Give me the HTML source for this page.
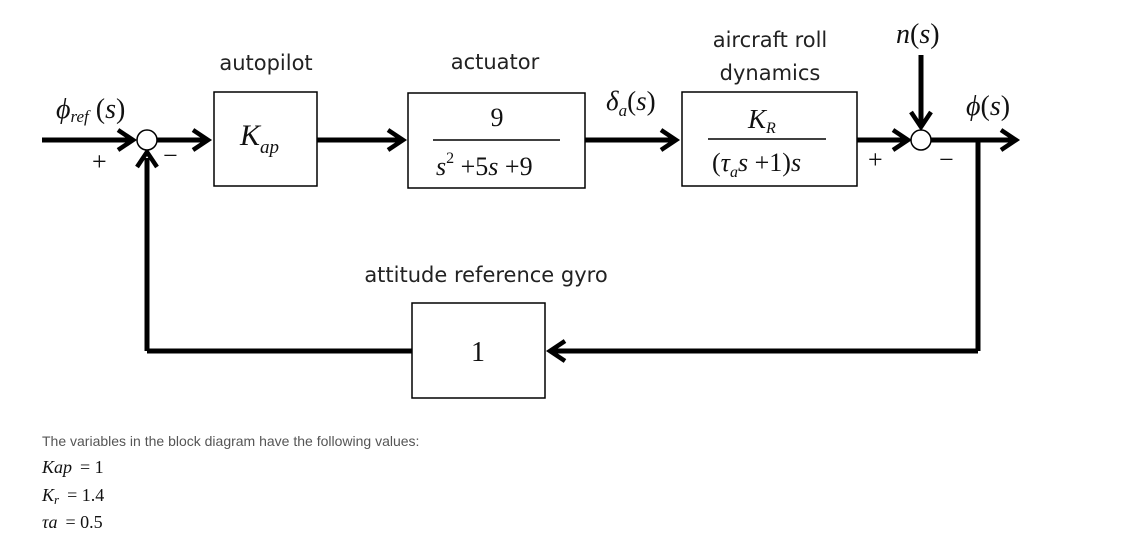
<!DOCTYPE html>
<html><head><meta charset="utf-8"><style>
body{margin:0;background:#fff;width:1126px;height:541px;overflow:hidden}
svg{position:absolute;left:0;top:0}
.l{font-family:"DejaVu Sans","Liberation Sans",sans-serif;font-size:21px;fill:#222}
.m{font-family:"Liberation Serif",serif;font-style:italic;fill:#111}
.r{font-family:"Liberation Serif",serif;fill:#111}
.t{font-family:"Liberation Sans",sans-serif;font-size:14px;fill:#555}
</style></head><body>
<svg width="1126" height="541" viewBox="0 0 1126 541">
<g stroke="#000" stroke-width="5" fill="none">
<line x1="42" y1="140" x2="132" y2="140"/>
<line x1="157" y1="140" x2="208" y2="140"/>
<line x1="317" y1="140" x2="402" y2="140"/>
<line x1="585" y1="140" x2="676" y2="140"/>
<line x1="857" y1="140" x2="906" y2="140"/>
<line x1="931" y1="140" x2="1012" y2="140"/>
<line x1="978" y1="140" x2="978" y2="351"/>
<line x1="978" y1="351" x2="551" y2="351"/>
<line x1="412" y1="351" x2="147" y2="351"/>
<line x1="147" y1="351" x2="147" y2="158"/>
<line x1="921" y1="55" x2="921" y2="124"/>
</g>
<g stroke="#000" stroke-width="4.5" fill="none" stroke-linejoin="miter">
<polyline points="118,130 133,140 118,150"/>
<polyline points="193,130 208,140 193,150"/>
<polyline points="388,130 403,140 388,150"/>
<polyline points="661,130 676,140 661,150"/>
<polyline points="893,130 908,140 893,150"/>
<polyline points="1001,130 1016,140 1001,150"/>
<polyline points="565,341 550,351 565,361"/>
<polyline points="137,167 147,152 157,167"/>
<polyline points="911,112 921,127 931,112"/>
</g>
<g stroke="#000" stroke-width="1.5" fill="#fff">
<circle cx="147" cy="140" r="10"/>
<circle cx="921" cy="140" r="10"/>
<rect x="214" y="92" width="103" height="94"/>
<rect x="408" y="93" width="177" height="95"/>
<rect x="682" y="92" width="175" height="94"/>
<rect x="412" y="303" width="133" height="95"/>
<line x1="433" y1="140" x2="560" y2="140"/>
<line x1="708" y1="139" x2="826" y2="139"/>
</g>
<text class="l" x="266" y="70" text-anchor="middle">autopilot</text>
<text class="l" x="495" y="69" text-anchor="middle">actuator</text>
<text class="l" x="770" y="47" text-anchor="middle">aircraft roll</text>
<text class="l" x="770" y="80" text-anchor="middle">dynamics</text>
<text class="l" x="486" y="282" text-anchor="middle">attitude reference gyro</text>
<text class="m" x="56" y="118" font-size="28">ϕ<tspan font-size="17" dy="4">ref</tspan><tspan class="r" font-style="normal" dy="-4"> (</tspan>s<tspan font-style="normal">)</tspan></text>
<text class="r" x="92" y="170" font-size="26">+</text>
<text class="r" x="163" y="164" font-size="26">−</text>
<text class="r" x="868" y="168" font-size="26">+</text>
<text class="r" x="939" y="168" font-size="26">−</text>
<text class="m" x="240" y="145" font-size="30">K<tspan font-size="19" dy="8">ap</tspan></text>
<text class="r" x="497" y="126" font-size="26" text-anchor="middle">9</text>
<text class="m" x="436" y="175" font-size="26">s<tspan class="r" font-style="normal" font-size="16" dy="-12">2</tspan><tspan class="r" font-style="normal" dy="12"> +5</tspan>s<tspan class="r" font-style="normal"> +9</tspan></text>
<text class="m" x="606" y="110" font-size="27">δ<tspan font-size="17" dy="6">a</tspan><tspan class="r" font-style="normal" dy="-6">(</tspan>s<tspan class="r" font-style="normal">)</tspan></text>
<text class="m" x="748" y="128" font-size="27">K<tspan font-size="16" dy="5">R</tspan></text>
<text class="m" x="712" y="171" font-size="26"><tspan class="r" font-style="normal">(</tspan>τ<tspan font-size="16" dy="6">a</tspan><tspan dy="-6">s</tspan><tspan class="r" font-style="normal"> +1)</tspan>s</text>
<text class="m" x="896" y="43" font-size="28">n<tspan class="r" font-style="normal">(</tspan>s<tspan class="r" font-style="normal">)</tspan></text>
<text class="m" x="966" y="115" font-size="28">ϕ<tspan class="r" font-style="normal">(</tspan>s<tspan class="r" font-style="normal">)</tspan></text>
<text class="r" x="478" y="361" font-size="28" text-anchor="middle">1</text>
<text class="t" x="42" y="446">The variables in the block diagram have the following values:</text>
<text class="m" x="42" y="473" font-size="18" fill="#444">Kap<tspan class="r" font-style="normal" dx="8">= 1</tspan></text>
<text class="m" x="42" y="501" font-size="18" fill="#444">K<tspan font-size="13" dy="3">r</tspan><tspan class="r" font-style="normal" dy="-3" dx="8">= 1.4</tspan></text>
<text class="m" x="42" y="528" font-size="18" fill="#444">τa<tspan class="r" font-style="normal" dx="8">= 0.5</tspan></text>
</svg>
</body></html>
